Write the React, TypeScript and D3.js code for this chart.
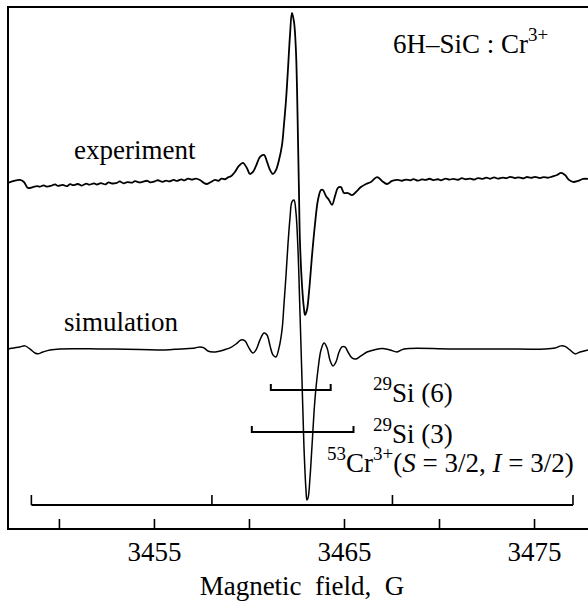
import React, { useEffect, useRef } from 'react';
import * as d3 from 'd3';

// field (G), signal (arb. units, experiment peak = 100)
const experiment: [number, number][] = [
  [3447.32, 0], [3447.63, 1.2], [3447.95, 1.8], [3448.16, 0.6], [3448.37, -2.9], [3448.63, -2.4],
  [3448.85, -1.9], [3449.0, -2.2], [3449.2, -1.4], [3449.35, -2.1], [3449.6, -1.6], [3449.8, -0.8],
  [3449.95, -1.7], [3450.2, -1.1], [3450.4, -1.9], [3450.6, -0.7], [3450.75, -1.3], [3451.0, -0.6],
  [3451.2, -1.5], [3451.45, -0.4], [3451.6, -1.0], [3451.85, -0.2], [3452.0, -0.9], [3452.2, -0.1],
  [3452.45, -0.8], [3452.6, 0.4], [3452.8, -0.3], [3453.05, 0.1], [3453.2, 0.9], [3453.4, -0.2],
  [3453.6, 0.5], [3453.85, 0.2], [3454.0, 1.1], [3454.25, 0.3], [3454.4, 0.6], [3454.65, 1.3],
  [3454.8, 0.4], [3455.05, 1.0], [3455.2, 1.6], [3455.45, 0.7], [3455.65, 1.4], [3455.8, 0.9],
  [3456.05, 1.8], [3456.2, 1.2], [3456.45, 2.1], [3456.6, 1.5], [3456.8, 2.6], [3457.0, 2.0],
  [3457.2, 2.6], [3457.42, 1.8], [3457.63, 0], [3457.79, -0.6], [3458.0, 0.6], [3458.21, 1.8],
  [3458.4, 1.3], [3458.55, 2.6], [3458.74, 2.2], [3458.9, 3.3], [3459.05, 3.9],
  [3459.26, 6.5], [3459.47, 10.0], [3459.68, 11.8], [3459.89, 8.8], [3460.05, 5.3], [3460.21, 6.5],
  [3460.37, 10.0], [3460.58, 15.3], [3460.79, 16.5], [3460.95, 12.4], [3461.11, 7.6], [3461.26, 5.3],
  [3461.42, 7.6], [3461.58, 13.5], [3461.74, 22.4], [3461.84, 34.1], [3461.95, 48.8], [3462.05, 66.5],
  [3462.16, 87.1], [3462.26, 100], [3462.37, 94.7], [3462.47, 78.2], [3462.53, 54.7], [3462.58, 25.3],
  [3462.63, -4.1], [3462.68, -33.5], [3462.79, -60], [3462.89, -73.5], [3462.95, -77.6], [3463.05, -74.7],
  [3463.16, -64.1], [3463.32, -42.4], [3463.47, -24.7], [3463.63, -10.0], [3463.79, -4.1], [3463.89, -4.1],
  [3464.05, -7.6], [3464.21, -10.0], [3464.37, -12.9], [3464.53, -7.6], [3464.68, -2.9], [3464.84, -2.4],
  [3465.0, -5.9], [3465.21, -5.9], [3465.42, -7.1], [3465.63, -5.3], [3465.89, -2.4], [3466.16, -0.6],
  [3466.42, 0.6], [3466.74, 3.5], [3467.0, 1.2], [3467.26, -0.6], [3467.53, 1.2], [3467.84, 1.8],
  [3468.05, 1.3], [3468.25, 2.0], [3468.5, 1.6], [3468.65, 2.3], [3468.9, 1.4], [3469.1, 2.1],
  [3469.3, 1.8], [3469.5, 2.5], [3469.7, 1.7], [3469.95, 2.2], [3470.1, 1.6], [3470.35, 2.6],
  [3470.55, 2.0], [3470.75, 2.4], [3471.0, 1.9], [3471.2, 2.8], [3471.4, 2.2], [3471.65, 2.6],
  [3471.85, 2.0], [3472.05, 2.9], [3472.25, 2.4], [3472.5, 3.1], [3472.7, 2.5], [3472.9, 3.3],
  [3473.1, 2.6], [3473.35, 3.2], [3473.55, 2.8], [3473.75, 3.6], [3474.0, 2.9], [3474.2, 3.3],
  [3474.45, 2.7], [3474.6, 3.5], [3474.85, 3.0], [3475.05, 3.6], [3475.3, 2.9], [3475.5, 3.4],
  [3475.75, 3.1], [3475.95, 3.8], [3476.21, 4.7], [3476.42, 5.9], [3476.63, 4.7],
  [3476.84, 1.8], [3477.05, 0.6], [3477.32, 1.2], [3477.58, 2.4], [3477.84, 2.4],
];

const simulation: [number, number][] = [
  [3447.32, 0], [3447.63, 0.6], [3447.95, 1.2], [3448.21, 1.8], [3448.47, 0], [3448.74, -2.4],
  [3448.89, -2.9], [3449.16, -1.8], [3449.53, -0.6], [3450.05, 0], [3452.16, 0], [3454.26, -0.3],
  [3455.58, -0.6], [3456.37, 0], [3457.16, 0.6], [3457.42, 1.2], [3457.63, 0.6], [3457.84, -1.2],
  [3458.11, -1.8], [3458.37, -1.5], [3458.68, -0.6], [3459.0, 0.6], [3459.32, 2.9], [3459.58, 5.3],
  [3459.79, 4.7], [3460.0, 0.6], [3460.21, -2.4], [3460.37, -0.6], [3460.58, 5.3], [3460.79, 9.4],
  [3460.95, 8.2], [3461.11, 1.8], [3461.26, -3.5], [3461.42, -4.7], [3461.58, 0.6], [3461.74, 11.2],
  [3461.84, 25.9], [3461.95, 43.5], [3462.05, 61.2], [3462.16, 77.1], [3462.26, 86.5], [3462.37, 87.6],
  [3462.47, 80.6], [3462.58, 58.2], [3462.68, 22.9], [3462.79, -18.2], [3462.89, -56.5], [3463.0, -82.9],
  [3463.05, -88.8], [3463.11, -87.6], [3463.21, -75.9], [3463.32, -56.5], [3463.47, -30], [3463.63, -12.4],
  [3463.79, -0.6], [3463.95, 3.5], [3464.11, 0.6], [3464.26, -6.5], [3464.42, -10], [3464.58, -7.6],
  [3464.74, -1.8], [3464.89, 1.2], [3465.05, 1.2], [3465.21, -1.8], [3465.42, -5.3], [3465.63, -5.9],
  [3465.89, -4.1], [3466.21, -1.8], [3466.58, -0.6], [3467.0, 0.3], [3467.42, -0.6], [3467.79, -1.8],
  [3468.16, 0], [3470.58, 0], [3473.21, 0], [3475.58, 0], [3476.11, 0.6], [3476.42, 1.8],
  [3476.63, 1.5], [3476.89, -0.6], [3477.16, -2.9], [3477.42, -1.8], [3477.84, -0.6],
];

const simulationOffset = -97.6;

const fieldTicks = [3450, 3455, 3460, 3465, 3470, 3475];
const labeledTicks = [3455, 3465, 3475];

// hyperfine stick bars (G) and their levels (signal units)
const si6Bar = [3461.15, 3464.3];
const si3Bar = [3460.15, 3465.5];
const crLines = [3448.55, 3458.05, 3467.55, 3477.05];
const si6Level = -121.8;
const si3Level = -146.5;
const crLevel = -189.4;

const FONT = 'Liberation Serif, Times New Roman, Times, serif';

export default function App() {
  const axisRef = useRef<SVGGElement>(null);
  const width = 588;
  const height = 604;
  const frame = { left: 8, right: 588, top: 7, bottom: 529 };

  const x = d3.scaleLinear().domain([3447.32, 3477.84]).range([frame.left, frame.right]);
  const y = d3.scaleLinear().domain([-203.5, 103.5]).range([frame.bottom, frame.top]);

  const makeLine = (offset: number) =>
    d3.line<[number, number]>()
      .x(d => x(d[0]))
      .y(d => y(d[1] + offset))
      .curve(d3.curveCatmullRom.alpha(0.5));

  useEffect(() => {
    const g = d3.select(axisRef.current);
    g.selectAll('*').remove();
    g.call(
      d3.axisBottom(x)
        .tickValues(fieldTicks)
        .tickSizeInner(-10)
        .tickSizeOuter(0)
        .tickPadding(13)
        .tickFormat(d => (labeledTicks.includes(+d) ? String(d) : ''))
    );
    g.attr('font-family', null).attr('font-size', null);
    g.select('.domain').remove();
    g.selectAll('.tick line').attr('stroke', '#000').attr('stroke-width', 1.6);
    g.selectAll('.tick text')
      .attr('fill', '#000')
      .style('font-size', '27px')
      .style('font-family', FONT);
  }, []);

  const si6 = [x(si6Bar[0]), x(si6Bar[1])];
  const si3 = [x(si3Bar[0]), x(si3Bar[1])];

  return (
    <svg width={width} height={height}
      style={{ position: 'absolute', left: 0, top: 0, background: '#fff', fontFamily: FONT }}
      fill="#000">
      {/* frame: left, top, bottom (right side open) */}
      <path d={`M${frame.right},${frame.top}H${frame.left}V${frame.bottom}H${frame.right}`}
        fill="none" stroke="#000" strokeWidth={2} />
      <g ref={axisRef} transform={`translate(0,${frame.bottom})`} />

      <path d={makeLine(0)(experiment) || ''} fill="none" stroke="#000" strokeWidth={1.8} />
      <path d={makeLine(simulationOffset)(simulation) || ''} fill="none" stroke="#000" strokeWidth={1.5} />

      {/* 29Si stick bars */}
      <path d={`M${si6[0]},${y(si6Level) - 6}V${y(si6Level)}H${si6[1]}V${y(si6Level) - 6}`}
        fill="none" stroke="#000" strokeWidth={2} />
      <path d={`M${si3[0]},${y(si3Level) - 6}V${y(si3Level)}H${si3[1]}V${y(si3Level) - 6}`}
        fill="none" stroke="#000" strokeWidth={2} />
      {/* 53Cr hyperfine lines */}
      <line x1={x(crLines[0])} x2={x(crLines[crLines.length - 1])} y1={y(crLevel)} y2={y(crLevel)}
        stroke="#000" strokeWidth={2} />
      {crLines.map(c => (
        <line key={c} x1={x(c)} x2={x(c)} y1={y(crLevel)} y2={y(crLevel) - 10} stroke="#000" strokeWidth={1.6} />
      ))}

      <g style={{ fontFamily: FONT, fontSize: 27 }}>
        <text x={74} y={159}>experiment</text>
        <text x={64} y={331}>simulation</text>
        <text x={393} y={53}>
          6H–SiC : Cr<tspan fontSize={19} dy={-12}>3+</tspan>
        </text>
        <text x={373} y={402}>
          <tspan fontSize={19} dy={-12}>29</tspan><tspan dy={12}>Si (6)</tspan>
        </text>
        <text x={373} y={443}>
          <tspan fontSize={19} dy={-12}>29</tspan><tspan dy={12}>Si (3)</tspan>
        </text>
        <text x={327} y={472}>
          <tspan fontSize={19} dy={-12}>53</tspan>
          <tspan dy={12}>Cr</tspan>
          <tspan fontSize={19} dy={-12}>3+</tspan>
          <tspan dy={12}>(</tspan>
          <tspan fontStyle="italic">S</tspan>
          <tspan> = 3/2, </tspan>
          <tspan fontStyle="italic">I</tspan>
          <tspan> = 3/2)</tspan>
        </text>
        <text x={302} y={595} textAnchor="middle" style={{ whiteSpace: 'pre' }}>
          {'Magnetic  field,  G'}
        </text>
      </g>
    </svg>
  );
}
